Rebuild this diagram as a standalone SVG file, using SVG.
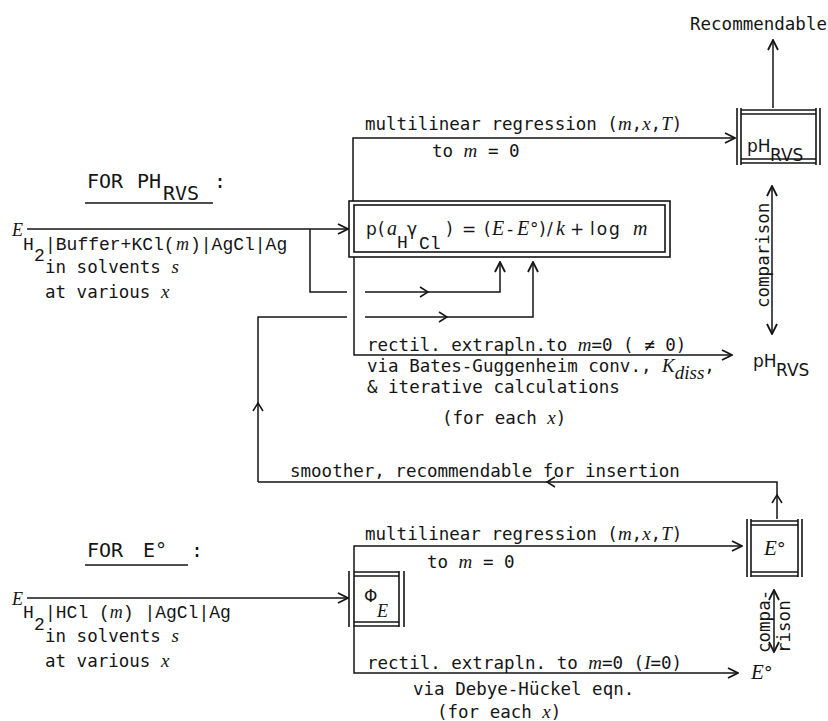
<svg xmlns="http://www.w3.org/2000/svg" width="828" height="721" viewBox="0 0 828 721">
<defs>
<style>
.m{font-family:"DejaVu Sans Mono",monospace;font-size:17.5px;fill:#151515}
.c{font-family:"Liberation Mono",monospace;font-size:18px;fill:#151515}
.v{font-family:"Liberation Serif",serif;font-style:italic}
.h{font-family:"DejaVu Sans Mono",monospace;font-size:20px;fill:#151515}
.s{font-family:"DejaVu Sans",sans-serif;font-size:17px;fill:#151515}
.ln{stroke:#151515;stroke-width:1.5;fill:none}
.bx{stroke:#151515;stroke-width:1.6;fill:none}
.ar{marker-end:url(#a)}
</style>
<marker id="a" viewBox="0 0 12 12" refX="11" refY="6" markerWidth="12" markerHeight="12" markerUnits="userSpaceOnUse" orient="auto-start-reverse"><path d="M1,1 L11,6 L1,11" fill="none" stroke="#151515" stroke-width="1.8"/></marker>
</defs>
<rect width="828" height="721" fill="#ffffff"/>

<g id="connectors">
<path class="ln ar" d="M27,229 H348"/>
<path class="ln" d="M310,229 V292 H347"/>
<path class="ln ar" d="M365,292 H500 V262"/>
<path class="ln" d="M258,482 V317 H347"/>
<path class="ln ar" d="M365,317 H533 V262"/>
<path class="ln ar" d="M353,201 V138 H735"/>
<path class="ln ar" d="M354,257 V355 H732"/>
<path class="ln ar" d="M773,108 V40"/>
<path class="ln ar" d="M772,186 V334" marker-start="url(#a)"/>
<path class="ln" d="M420,287 L428,292 L420,297"/>
<path class="ln" d="M439,312 L447,317 L439,322"/>
<path class="ln" d="M253,411 L258,403 L263,411"/>
<path class="ln" d="M777,519 V482 H258"/>
<path class="ln" d="M772,503 L777,495 L782,503"/>
<path class="ln" d="M555,477 L547,482 L555,487"/>
<path class="ln ar" d="M27,598 H348"/>
<path class="ln ar" d="M354,571 V546 H742"/>
<path class="ln ar" d="M354,627 V673 H738"/>
<path class="ln ar" d="M774,590 V652" marker-start="url(#a)"/>
</g>

<g id="header-ph">
<text class="h" x="87" y="188">FOR</text>
<text class="h" x="137" y="188">PH</text>
<text class="h" x="163" y="200">RVS</text>
<text class="h" x="214" y="188">:</text>
<line class="ln" x1="85" y1="203" x2="213" y2="203"/>
</g>

<g id="cell-ph">
<text class="v" x="12" y="236" font-size="18" fill="#151515">E</text>
<text class="c" x="23" y="250">H</text>
<text class="c" x="34" y="261" font-size="15">2</text>
<text class="c" x="45" y="250">|Buffer+KCl(</text>
<text class="c v" x="176" y="250" font-size="17">m</text>
<text class="c" x="190" y="250">)|AgCl|Ag</text>
<text class="m" x="45" y="273">in solvents <tspan class="v" font-size="19">s</tspan></text>
<text class="m" x="45" y="298">at various <tspan class="v" font-size="19">x</tspan></text>
</g>

<g id="formula-box">
<rect class="bx" x="349" y="201" width="321" height="56"/>
<rect class="bx" x="354" y="205" width="311" height="47"/>
<text class="s" font-size="19" x="366" y="235">p</text>
<text class="s" font-size="19" x="378" y="235">(</text>
<text class="v" font-size="20" x="387" y="235" fill="#151515">a</text>
<text class="c" font-size="14" x="397" y="248">H</text>
<text class="s" font-size="19" x="407" y="235">γ</text>
<text class="c" font-size="15" x="419" y="249">Cl</text>
<text class="s" font-size="19" x="446" y="235">)</text>
<text class="s" font-size="19" x="462" y="235">=</text>
<text class="s" font-size="19" x="484" y="235">(</text>
<text class="v" font-size="20" x="492" y="235" fill="#151515">E</text>
<text class="s" font-size="19" x="507" y="235">-</text>
<text class="v" font-size="20" x="517" y="235" fill="#151515">E</text>
<text class="s" font-size="19" x="530" y="235">°</text>
<text class="s" font-size="19" x="539" y="235">)</text>
<text class="s" font-size="19" x="547" y="235">/</text>
<text class="v" font-size="20" x="556" y="235" fill="#151515">k</text>
<text class="s" font-size="19" x="570" y="235">+</text>
<text class="s" font-size="19" x="590" y="235" letter-spacing="2">log</text>
<text class="v" font-size="20" x="633" y="235" fill="#151515">m</text>
</g>

<g id="labels-upper">
<text class="m" x="365" y="130">multilinear regression (<tspan class="v" font-size="19">m</tspan>,<tspan class="v" font-size="19">x</tspan>,<tspan class="v" font-size="19">T</tspan>)</text>
<text class="m" x="432" y="157">to <tspan class="v" font-size="19">m</tspan> = 0</text>
<text class="m" x="367" y="351">rectil. extrapln.to <tspan class="v" font-size="19">m</tspan>=0 ( ≠ 0)</text>
<text class="m" x="367" y="372">via Bates-Guggenheim conv., <tspan class="v" font-size="19">K</tspan><tspan class="v" font-size="19" dy="7">diss</tspan><tspan dy="-7">,</tspan></text>
<text class="m" x="367" y="393">&amp; iterative calculations</text>
<text class="m" x="442" y="424">(for each <tspan class="v" font-size="19">x</tspan>)</text>
<text class="m" x="690" y="30">Recommendable</text>
</g>

<g id="ph-box">
<line class="bx" x1="737" y1="108" x2="737" y2="165"/>
<line class="bx" x1="741" y1="108" x2="741" y2="165"/>
<line class="bx" x1="816" y1="108" x2="816" y2="165"/>
<line class="bx" x1="820" y1="108" x2="820" y2="165"/>
<line class="bx" x1="741" y1="110" x2="816" y2="110"/>
<line class="bx" x1="741" y1="114" x2="816" y2="114"/>
<line class="bx" x1="741" y1="159" x2="816" y2="159"/>
<line class="bx" x1="741" y1="163" x2="816" y2="163"/>
<text class="s" x="747" y="152" font-size="18">pH</text>
<text class="s" x="770" y="161">RVS</text>
</g>

<g id="comparison-upper">
<text class="m" transform="translate(769,308) rotate(-90)">comparison</text>
</g>

<g id="ph-lower">
<text class="s" x="753" y="367" font-size="18">pH</text>
<text class="s" x="776" y="376">RVS</text>
</g>

<g id="smoother-label">
<text class="m" x="290" y="477">smoother, recommendable for insertion</text>
</g>

<g id="header-e">
<text class="h" x="87" y="557">FOR</text>
<text class="h" x="143" y="557">E°</text>
<text class="h" x="191" y="557">:</text>
<line class="ln" x1="85" y1="565" x2="188" y2="565"/>
</g>

<g id="cell-e">
<text class="v" x="12" y="605" font-size="18" fill="#151515">E</text>
<text class="c" x="23" y="618">H</text>
<text class="c" x="34" y="630" font-size="15">2</text>
<text class="c" x="45" y="618">|HCl (<tspan class="v">m</tspan>) |AgCl|Ag</text>
<text class="m" x="45" y="642">in solvents <tspan class="v" font-size="19">s</tspan></text>
<text class="m" x="45" y="667">at various <tspan class="v" font-size="19">x</tspan></text>
</g>

<g id="phi-box">
<line class="bx" x1="349" y1="571" x2="349" y2="627"/>
<line class="bx" x1="354" y1="571" x2="354" y2="627"/>
<line class="bx" x1="399" y1="571" x2="399" y2="627"/>
<line class="bx" x1="404" y1="571" x2="404" y2="627"/>
<line class="bx" x1="354" y1="572" x2="399" y2="572"/>
<line class="bx" x1="354" y1="576" x2="399" y2="576"/>
<line class="bx" x1="354" y1="622" x2="399" y2="622"/>
<line class="bx" x1="354" y1="626" x2="399" y2="626"/>
<text class="s" x="364" y="602" font-size="15">Φ</text>
<text class="v" x="377" y="617" font-size="18" fill="#151515">E</text>
</g>

<g id="labels-lower">
<text class="m" x="365" y="540">multilinear regression (<tspan class="v" font-size="19">m</tspan>,<tspan class="v" font-size="19">x</tspan>,<tspan class="v" font-size="19">T</tspan>)</text>
<text class="m" x="427" y="568">to <tspan class="v" font-size="19">m</tspan> = 0</text>
<text class="m" x="367" y="669">rectil. extrapln. to <tspan class="v" font-size="19">m</tspan>=0 (<tspan class="v" font-size="19">I</tspan>=0)</text>
<text class="m" x="413" y="695">via Debye-Hückel eqn.</text>
<text class="m" x="437" y="718">(for each <tspan class="v" font-size="19">x</tspan>)</text>
</g>

<g id="e-box">
<line class="bx" x1="747" y1="519" x2="747" y2="577"/>
<line class="bx" x1="751" y1="519" x2="751" y2="577"/>
<line class="bx" x1="798" y1="519" x2="798" y2="577"/>
<line class="bx" x1="802" y1="519" x2="802" y2="577"/>
<line class="bx" x1="751" y1="521" x2="798" y2="521"/>
<line class="bx" x1="751" y1="525" x2="798" y2="525"/>
<line class="bx" x1="751" y1="572" x2="798" y2="572"/>
<line class="bx" x1="751" y1="576" x2="798" y2="576"/>
<text class="v" x="764" y="555" font-size="21" fill="#151515">E<tspan font-style="normal" font-family="DejaVu Sans" font-size="18">°</tspan></text>
</g>

<g id="e-lower">
<text class="v" x="751" y="679" font-size="21" fill="#151515">E<tspan font-style="normal" font-family="DejaVu Sans" font-size="18">°</tspan></text>
</g>

<g id="comparison-lower">
<text class="m" font-size="16" transform="translate(770,653) rotate(-90)">compa-</text>
<text class="m" font-size="16" transform="translate(790,653) rotate(-90)">rison</text>
</g>
</svg>
